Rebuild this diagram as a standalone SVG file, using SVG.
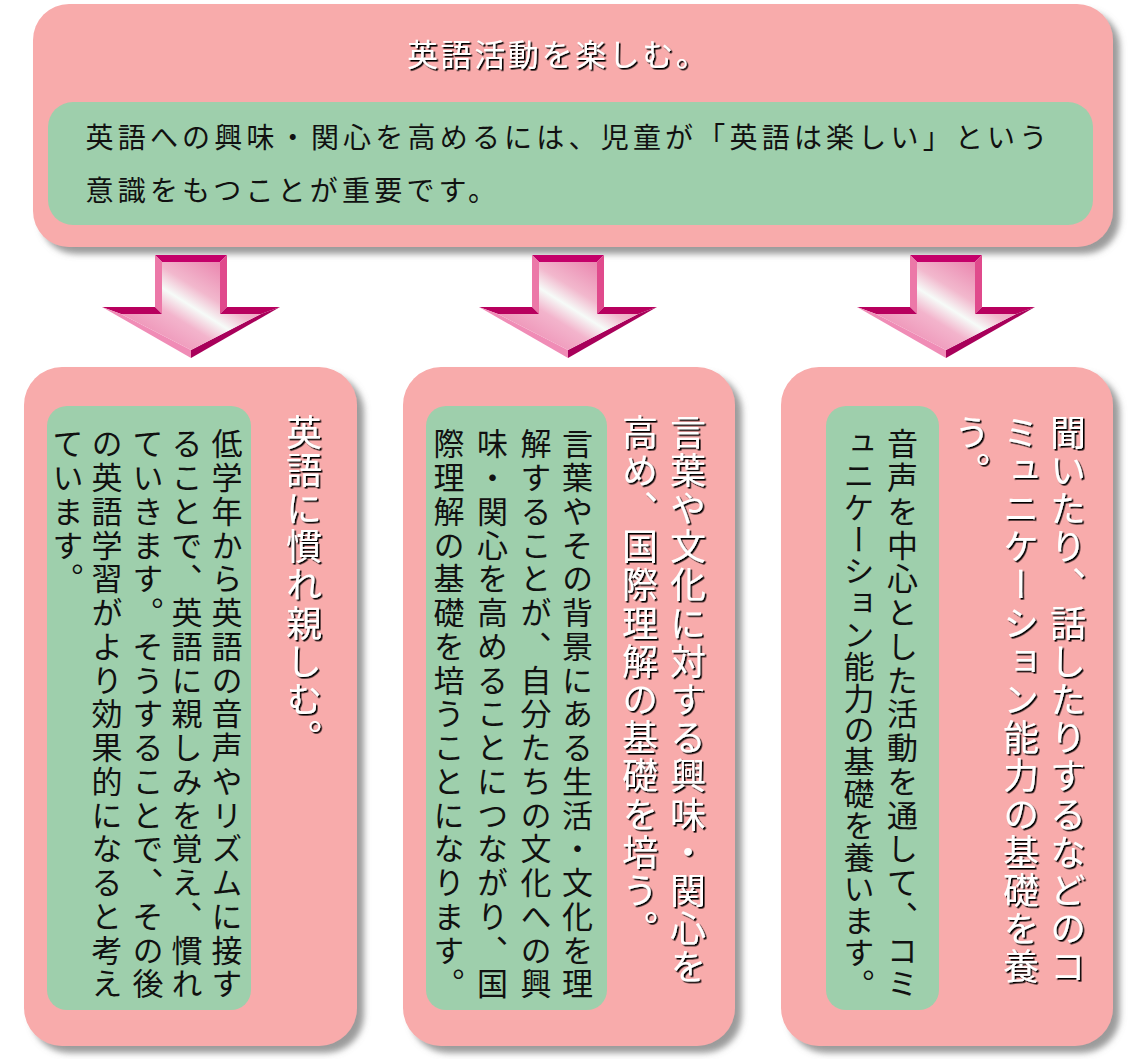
<svg xmlns="http://www.w3.org/2000/svg" width="1141" height="1059" viewBox="0 0 1141 1059">
<defs>
<style>
.pink{fill:#f8abab}
.green{fill:#9ecfac}
.jp{font-family:"Noto Sans CJK JP","Noto Sans CJK SC",sans-serif}
.head{fill:#ffffff;filter:url(#ts)}
.body{fill:#111111}
.v{writing-mode:vertical-rl}
.hv{font-size:36px;letter-spacing:2.2px}
.bv{font-size:31px;letter-spacing:2.75px}
</style>
<filter id="sh" x="-5%" y="-5%" width="115%" height="115%">
<feGaussianBlur in="SourceAlpha" stdDeviation="3"/>
<feOffset dx="7" dy="7" result="b"/>
<feFlood flood-color="#7a7a7a" flood-opacity="0.75"/>
<feComposite in2="b" operator="in"/>
<feMerge><feMergeNode/><feMergeNode in="SourceGraphic"/></feMerge>
</filter>
<filter id="ts" x="-10%" y="-10%" width="130%" height="130%">
<feDropShadow dx="1.6" dy="1.6" stdDeviation="0.3" flood-color="#000000" flood-opacity="1"/>
</filter>
<linearGradient id="ag" x1="0" y1="1" x2="1" y2="0">
<stop offset="0" stop-color="#ea78a6"/>
<stop offset="0.38" stop-color="#f3b4cc"/>
<stop offset="0.5" stop-color="#f6fbf8"/>
<stop offset="0.62" stop-color="#f2b8cd"/>
<stop offset="1" stop-color="#e6679c"/>
</linearGradient>
<g id="arrow">
<polygon points="-36,0 36,0 29,7 -29,7" fill="#c4006a"/>
<polygon points="36,0 36,52 29,59 29,7" fill="#e04a8c"/>
<polygon points="-36,0 -29,7 -29,59 -36,52" fill="#ec78a8"/>
<polygon points="36,52 89,52 70,59 29,59" fill="#b8005e"/>
<polygon points="-36,52 -29,59 -70,59 -89,52" fill="#b8005e"/>
<polygon points="89,52 0,103 0,95 70,59" fill="#a8005a"/>
<polygon points="-89,52 -70,59 0,95 0,103" fill="#f08cb6"/>
<polygon points="-29,7 29,7 29,59 70,59 0,95 -70,59 -29,59" fill="url(#ag)"/>
</g>
</defs>
<rect width="1141" height="1059" fill="#ffffff"/>

<g id="top-node">
<rect class="pink" x="33" y="4" width="1080" height="243" rx="36" filter="url(#sh)"/>
<text class="jp head" x="407" y="66" font-size="31" letter-spacing="2.6">英語活動を楽しむ。</text>
<rect class="green" x="48" y="102" width="1045" height="123" rx="25"/>
<text class="jp body" x="85.5" y="148" font-size="28" letter-spacing="4.2">英語への興味・関心を高めるには、児童が「英語は楽しい」という</text>
<text class="jp body" x="85.5" y="201" font-size="28" letter-spacing="4.2">意識をもつことが重要です。</text>
</g>

<g id="connectors">
<use href="#arrow" transform="translate(191,255)"/>
<use href="#arrow" transform="translate(568,255)"/>
<use href="#arrow" transform="translate(946,255)"/>
</g>

<g id="node-1">
<rect class="pink" x="24" y="367" width="333" height="679" rx="38" filter="url(#sh)"/>
<text class="jp head v hv" x="304" y="414">英語に慣れ親しむ。</text>
<rect class="green" x="47" y="406" width="204" height="604" rx="20"/>
<text class="jp body v bv" x="227" y="428">低学年から英語の音声やリズムに接す</text>
<text class="jp body v bv" x="187" y="428">ることで、英語に親しみを覚え、慣れ</text>
<text class="jp body v bv" x="148" y="428">ていきます。そうすることで、その後</text>
<text class="jp body v bv" x="107" y="428">の英語学習がより効果的になると考え</text>
<text class="jp body v bv" x="68" y="428">ています。</text>
</g>

<g id="node-2">
<rect class="pink" x="403" y="367" width="332" height="679" rx="38" filter="url(#sh)"/>
<text class="jp head v hv" x="688" y="414">言葉や文化に対する興味・関心を</text>
<text class="jp head v hv" x="640" y="414">高め、国際理解の基礎を培う。</text>
<rect class="green" x="426" y="406" width="181" height="604" rx="20"/>
<text class="jp body v bv" x="577.5" y="428">言葉やその背景にある生活・文化を理</text>
<text class="jp body v bv" x="536" y="428">解することが、自分たちの文化への興</text>
<text class="jp body v bv" x="492.5" y="428">味・関心を高めることにつながり、国</text>
<text class="jp body v bv" x="449" y="428">際理解の基礎を培うことになります。</text>
</g>

<g id="node-3">
<rect class="pink" x="781" y="367" width="332" height="679" rx="38" filter="url(#sh)"/>
<text class="jp head v hv" x="1068" y="414">聞いたり、話したりするなどのコ</text>
<text class="jp head v hv" x="1021" y="414">ミュニケーション能力の基礎を養</text>
<text class="jp head v hv" x="972" y="414">う。</text>
<rect class="green" x="826" y="406" width="113" height="604" rx="20"/>
<text class="jp body v bv" x="902.5" y="428">音声を中心とした活動を通して、コミ</text>
<text class="jp body v" x="859" y="428" font-size="31" letter-spacing="0.8">ュニケーション能力の基礎を養います。</text>
</g>
</svg>
